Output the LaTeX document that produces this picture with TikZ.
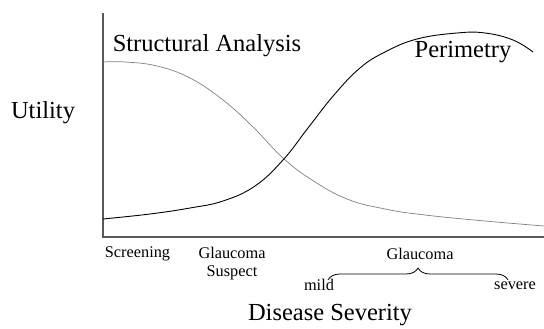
\documentclass[tikz,border=0pt]{standalone}
\usepackage{fontspec}
\setmainfont{Liberation Serif}
\usetikzlibrary{decorations.pathreplacing}
\begin{document}
\begin{tikzpicture}[x=1pt,y=-1pt,
  big/.style={font=\fontsize{24.5}{26}\selectfont, inner sep=0pt},
  small/.style={font=\fontsize{16.3}{19}\selectfont, inner sep=0pt, align=center},
  axis/.style={draw=black!65, line width=1.4pt},
  structcurve/.style={draw=black!50, line width=0.7pt},
  perimcurve/.style={draw=black, line width=0.9pt}]
\useasboundingbox (0,0) rectangle (544,329);
% axes
\coordinate (top) at (103,13);
\coordinate (origin) at (103,237);
\coordinate (right) at (544,237);
\draw[axis] (top) -- (origin) -- (right);
% structural analysis curve
\draw[structcurve] plot[smooth, tension=0.7] coordinates {(103,62) (125,62) (157,66) (190,78) (223,100) (253,127) (283,158) (312,180) (347,199) (385,209) (425,215) (485,221) (544,226)};
% perimetry curve
\draw[perimcurve] plot[smooth, tension=0.7] coordinates {(103,219) (150,214) (190,208) (223,201) (255,186) (283,160) (308,128) (334,95) (360,68) (385,52) (417,39) (457,33) (485,33) (513,40) (533,52)};
% labels
\node[big] (sa) at (207,46) {Structural Analysis};
\node[big] (pe) at (463,52) {Perimetry};
\node[big] (ut) at (43,113) {Utility};
\node[big] (ds) at (330,315) {Disease Severity};
\node[small] (sc) at (137.5,254) {Screening};
\node[small] (gs) at (232,264) {Glaucoma\\[-1pt]Suspect};
\node[small] (gl) at (420,254) {Glaucoma};
\node[small] (mi) at (319,285) {mild};
\node[small] (se) at (515,286) {severe};
% brace
\coordinate (bl) at (328,280);
\coordinate (br) at (508,280);
\draw[line width=0.8pt, decorate, decoration={brace, amplitude=12pt, aspect=0.5}] (bl) -- (br);
\end{tikzpicture}
\end{document}
